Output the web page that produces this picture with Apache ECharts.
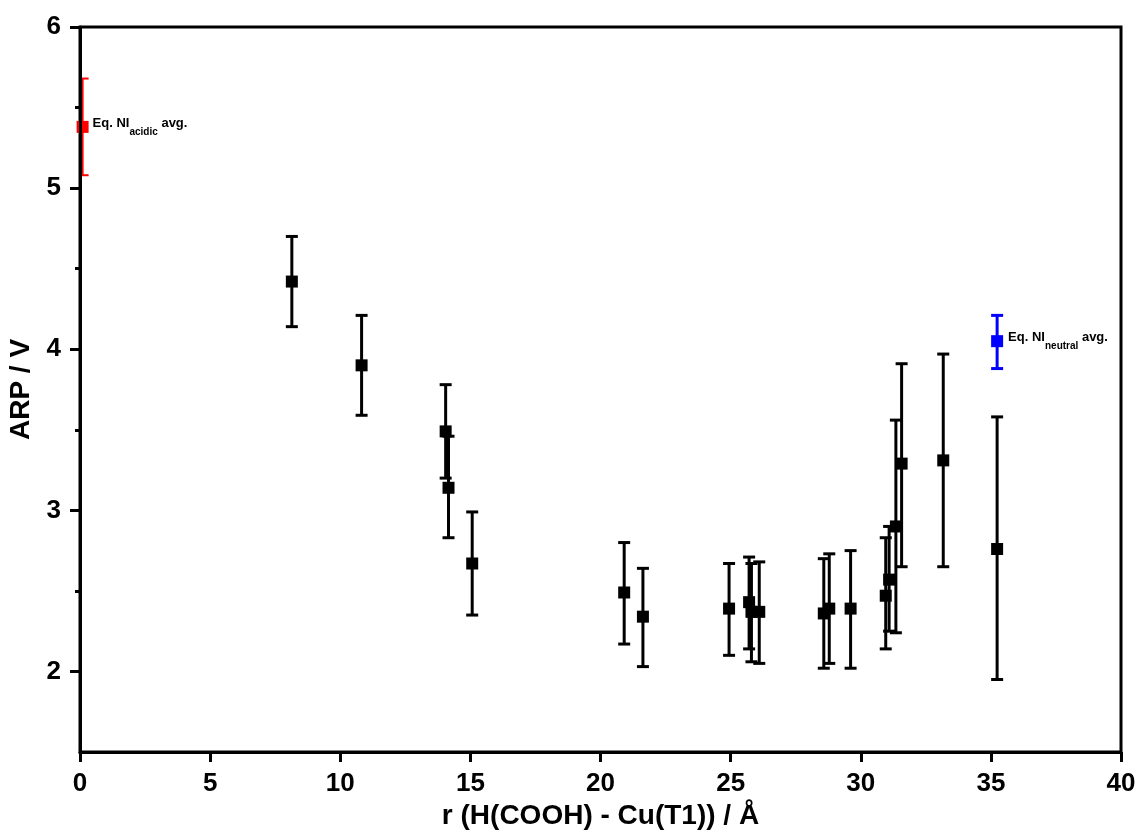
<!DOCTYPE html>
<html>
<head>
<meta charset="utf-8">
<script src="https://cdn.jsdelivr.net/npm/echarts@6/dist/echarts.min.js"></script>
<style>
  html, body { margin: 0; padding: 0; background: #fff; }
  #chart { width: 1140px; height: 840px; }
</style>
</head>
<body>
<div id="chart"></div>
<script>
// distance r (H(COOH) - Cu(T1)) in Angstrom, ARP value and error bar ends
var distances = [8.14, 10.82, 14.05, 14.16, 15.07, 20.91, 21.63, 24.94, 25.71, 25.80,
  26.10, 28.58, 28.79, 29.61, 30.96, 31.09, 31.35, 31.57, 33.17, 35.24];
var arpValues = [4.42, 3.90, 3.49, 3.14, 2.67, 2.49, 2.34, 2.39, 2.43, 2.37,
  2.37, 2.36, 2.39, 2.39, 2.47, 2.57, 2.90, 3.29, 3.31, 2.76];
var arpUpper = [4.70, 4.21, 3.78, 3.46, 2.99, 2.80, 2.64, 2.67, 2.71, 2.67,
  2.68, 2.70, 2.73, 2.75, 2.83, 2.90, 3.56, 3.91, 3.97, 3.58];
var arpLower = [4.14, 3.59, 3.20, 2.83, 2.35, 2.17, 2.03, 2.10, 2.14, 2.06,
  2.05, 2.02, 2.05, 2.02, 2.14, 2.25, 2.24, 2.65, 2.65, 1.95];

// averages of the equilibrium NI runs: [r, value, upper, lower]
var acidicAvg = [0.1, 5.38, 5.68, 5.08];
var neutralAvg = [35.24, 4.05, 4.21, 3.88];

var yMajorTicks = [2, 3, 4, 5, 6];
var yMinorTicks = [2.5, 3.5, 4.5, 5.5];

var chart = echarts.init(document.getElementById('chart'));

// 误差棒: 竖线加上下两个短横
function errorBar(lineW, capHalf) {
  return function (params, api) {
    var top = api.coord([api.value(0), api.value(1)]);
    var bot = api.coord([api.value(0), api.value(2)]);
    var st = { stroke: api.visual('color'), lineWidth: lineW };
    return {
      type: 'group',
      children: [
        { type: 'line', shape: { x1: top[0], y1: top[1], x2: bot[0], y2: bot[1] }, style: st },
        { type: 'line', shape: { x1: top[0] - capHalf, y1: top[1], x2: top[0] + capHalf, y2: top[1] }, style: st },
        { type: 'line', shape: { x1: bot[0] - capHalf, y1: bot[1], x2: bot[0] + capHalf, y2: bot[1] }, style: st }
      ]
    };
  };
}

var barData = distances.map(function (d, i) { return [d, arpUpper[i], arpLower[i]]; });
var pointData = distances.map(function (d, i) { return [d, arpValues[i]]; });

var labelRich = {
  a: { fontFamily: 'Liberation Sans', fontWeight: 'bold', fontSize: 13, color: '#000', lineHeight: 15, verticalAlign: 'top' },
  s: { fontFamily: 'Liberation Sans', fontWeight: 'bold', fontSize: 10, color: '#000', lineHeight: 20, verticalAlign: 'bottom' }
};

var tickFont = { fontFamily: 'Liberation Sans', fontWeight: 'bold', fontSize: 26, color: '#000' };
var nameFont = { fontFamily: 'Liberation Sans', fontWeight: 'bold', fontSize: 28, color: '#000' };

var option = {
  backgroundColor: '#fff',
  animation: false,
  grid: {
    left: 80, right: 19, top: 27, bottom: 88,
    outerBoundsMode: 'none',
    show: true, borderColor: '#000', borderWidth: 3
  },
  xAxis: {
    type: 'value', min: 0, max: 40, interval: 5,
    name: 'r (H(COOH) - Cu(T1)) / Å',
    nameLocation: 'middle', nameGap: 48,
    nameTextStyle: nameFont,
    axisLine: { lineStyle: { color: '#000', width: 3 } },
    axisTick: { length: 10, lineStyle: { color: '#000', width: 3 } },
    axisLabel: Object.assign({ margin: 19 }, tickFont),
    splitLine: { show: false },
    z: 10
  },
  yAxis: [{
    type: 'value', min: 1.5, max: 6,
    name: 'ARP / V',
    nameLocation: 'middle', nameGap: 43,
    nameTextStyle: nameFont,
    axisLine: { lineStyle: { color: '#000', width: 3 } },
    axisTick: { length: 10, customValues: yMajorTicks, lineStyle: { color: '#000', width: 3 } },
    axisLabel: Object.assign({ margin: 19, customValues: yMajorTicks }, tickFont),
    splitLine: { show: false },
    z: 10
  }, {
    type: 'value', min: 1.5, max: 6, position: 'left',
    axisLine: { show: false },
    axisTick: { length: 5, customValues: yMinorTicks, lineStyle: { color: '#000', width: 3 } },
    axisLabel: { show: false },
    splitLine: { show: false },
    z: 10
  }],
  series: [{
    type: 'custom',
    renderItem: errorBar(3, 6),
    itemStyle: { color: '#000' },
    clip: true,
    data: barData,
    z: 2
  }, {
    type: 'scatter',
    symbol: 'rect', symbolSize: 12,
    itemStyle: { color: '#000', opacity: 1 },
    data: pointData,
    z: 3
  }, {
    type: 'custom',
    renderItem: errorBar(2, 6),
    itemStyle: { color: '#ff0000' },
    clip: true,
    data: [[acidicAvg[0], acidicAvg[2], acidicAvg[3]]],
    z: 2
  }, {
    type: 'scatter',
    symbol: 'rect', symbolSize: 12,
    itemStyle: { color: '#ff0000', opacity: 1 },
    label: {
      show: true, position: 'right', distance: 4,
      formatter: '{a|Eq. NI}{s|acidic}{a| avg.}', rich: labelRich
    },
    data: [[acidicAvg[0], acidicAvg[1]]],
    z: 3
  }, {
    type: 'custom',
    renderItem: errorBar(3, 6),
    itemStyle: { color: '#0000ff' },
    clip: true,
    data: [[neutralAvg[0], neutralAvg[2], neutralAvg[3]]],
    z: 2
  }, {
    type: 'scatter',
    symbol: 'rect', symbolSize: 12,
    itemStyle: { color: '#0000ff', opacity: 1 },
    label: {
      show: true, position: 'right', distance: 5,
      formatter: '{a|Eq. NI}{s|neutral}{a| avg.}', rich: labelRich
    },
    data: [[neutralAvg[0], neutralAvg[1]]],
    z: 3
  }]
};

chart.setOption(option);
</script>
</body>
</html>
